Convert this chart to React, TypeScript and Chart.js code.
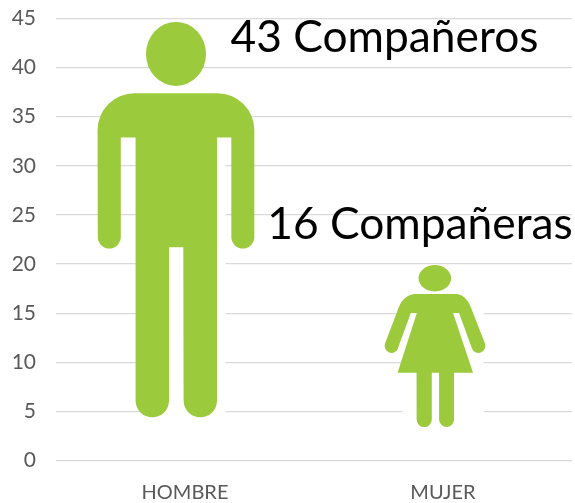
import React, { useEffect, useRef } from "react";
import { Chart, registerables } from "chart.js";

Chart.register(...registerables);

const categories = ["HOMBRE", "MUJER"];
const counts = [43, 16];
const captions = ["Compañeros", "Compañeras"];
const captionLevels = [43, 24];
const figureSpans: [number, number][] = [[4.4, 44.6], [3.4, 19.9]];
const maskSpans: [number, number][] = [[2, 33], [2, 16]];
const yTicks = [0, 5, 10, 15, 20, 25, 30, 35, 40, 45];

const GREEN = "#9BCB3C";
const FONT = "Lato, Carlito, sans-serif";

function drawMan(ctx: CanvasRenderingContext2D, cx: number, top: number, s: number) {
  const X = (d: number) => cx + d * s;
  const Y = (d: number) => top + d * s;
  ctx.beginPath();
  ctx.ellipse(X(-0.3), Y(31.5), 30 * s, 32 * s, 0, 0, Math.PI * 2);
  ctx.closePath();
  ctx.fill();
  ctx.beginPath();
  ctx.moveTo(X(-42), Y(70.7));
  ctx.arcTo(X(78), Y(70.7), X(78), Y(214), 37 * s);
  ctx.lineTo(X(78), Y(214.5));
  ctx.arc(X(66.5), Y(214.5), 11.5 * s, 0, Math.PI);
  ctx.lineTo(X(55), Y(115));
  ctx.lineTo(X(40.7), Y(115));
  ctx.lineTo(X(40.7), Y(378));
  ctx.arc(X(24), Y(378), 16.7 * s, 0, Math.PI);
  ctx.lineTo(X(7), Y(224.7));
  ctx.lineTo(X(-7.3), Y(224.7));
  ctx.lineTo(X(-7.3), Y(378));
  ctx.arc(X(-24), Y(378), 16.7 * s, 0, Math.PI);
  ctx.lineTo(X(-40.7), Y(115));
  ctx.lineTo(X(-55.5), Y(115));
  ctx.lineTo(X(-55.5), Y(214.5));
  ctx.arc(X(-67), Y(214.5), 11.5 * s, 0, Math.PI);
  ctx.lineTo(X(-78.7), Y(108));
  ctx.arcTo(X(-78.7), Y(70.7), X(0), Y(70.7), 37 * s);
  ctx.closePath();
  ctx.fill();
}

function drawWoman(ctx: CanvasRenderingContext2D, cx: number, top: number, s: number) {
  const X = (d: number) => cx + d * s;
  const Y = (d: number) => top + d * s;
  ctx.beginPath();
  ctx.ellipse(X(0), Y(13.2), 16.3 * s, 13.2 * s, 0, 0, Math.PI * 2);
  ctx.closePath();
  ctx.fill();
  ctx.beginPath();
  ctx.moveTo(X(-21), Y(29));
  ctx.lineTo(X(22.7), Y(29));
  ctx.quadraticCurveTo(X(32), Y(31), X(36), Y(42));
  ctx.lineTo(X(50.3), Y(78.5));
  ctx.arc(X(43.7), Y(81), 7 * s, -0.35, Math.PI - 0.35);
  ctx.lineTo(X(24.3), Y(48));
  ctx.lineTo(X(18.3), Y(48));
  ctx.lineTo(X(38.3), Y(108));
  ctx.lineTo(X(19.3), Y(108));
  ctx.lineTo(X(19.3), Y(154.8));
  ctx.arc(X(11.8), Y(154.8), 7.5 * s, 0, Math.PI);
  ctx.lineTo(X(4.3), Y(108));
  ctx.lineTo(X(-3), Y(108));
  ctx.lineTo(X(-3), Y(154.8));
  ctx.arc(X(-10.6), Y(154.8), 7.6 * s, 0, Math.PI);
  ctx.lineTo(X(-18.3), Y(108));
  ctx.lineTo(X(-37.3), Y(108));
  ctx.lineTo(X(-18), Y(48));
  ctx.lineTo(X(-24), Y(48));
  ctx.lineTo(X(-37), Y(83.5));
  ctx.arc(X(-43.3), Y(81), 7 * s, 0.35, Math.PI + 0.35);
  ctx.lineTo(X(-36), Y(42));
  ctx.quadraticCurveTo(X(-32), Y(31), X(-21), Y(29));
  ctx.closePath();
  ctx.fill();
}

const pictogramPlugin = {
  id: "pictograms",
  afterDatasetsDraw(chart: any) {
    const { ctx } = chart;
    const els = chart.getDatasetMeta(1).data;
    const yScale = chart.scales.y;
    ctx.save();
    ctx.fillStyle = GREEN;
    const [man, woman] = els;
    const sMan = (man.base - man.y) / 394.7;
    drawMan(ctx, man.x - 8.7, man.y, sMan);
    const sWoman = (woman.base - woman.y) / 162.4;
    drawWoman(ctx, woman.x - 8.2, woman.y, sWoman);

    ctx.fillStyle = "#000000";
    ctx.font = `44.3px ${FONT}`;
    ctx.textAlign = "center";
    ctx.textBaseline = "middle";
    const offsets = [199.5, -23];
    counts.forEach((n, i) => {
      ctx.fillText(`${n} ${captions[i]}`, els[i].x + offsets[i], yScale.getPixelForValue(captionLevels[i]));
    });
    ctx.restore();
  },
};

export default function App() {
  const ref = useRef<HTMLCanvasElement>(null);
  useEffect(() => {
    if (!ref.current) return;
    const chart = new Chart(ref.current, {
      type: "bar",
      data: {
        labels: categories,
        datasets: [
          {
            label: "mask",
            data: maskSpans as any,
            backgroundColor: "#FFFFFF",
            barPercentage: 0.314,
            categoryPercentage: 1,
          },
          {
            label: "Compañeros",
            data: figureSpans as any,
            backgroundColor: "rgba(0,0,0,0)",
            barPercentage: 0.314,
            categoryPercentage: 1,
          },
        ],
      },
      options: {
        responsive: false,
        animation: false,
        layout: { padding: { top: 18.5, right: 3, left: 0, bottom: 0 } },
        plugins: { legend: { display: false }, tooltip: { enabled: false }, title: { display: false } },
        scales: {
          x: {
            stacked: true,
            grid: { display: false },
            border: { display: false },
            ticks: { color: "#595959", font: { family: FONT, size: 20 }, padding: 12, maxRotation: 0 },
            afterFit: (s: any) => { s.height = 42.5; },
          },
          y: {
            min: 0,
            max: 45,
            afterBuildTicks: (s: any) => { s.ticks = yTicks.map((value) => ({ value })); },
            grid: { color: "#DADADA", lineWidth: 1.2, drawTicks: false },
            border: { display: false },
            ticks: { color: "#595959", font: { family: FONT, size: 21 }, padding: 20 },
            afterFit: (s: any) => { s.width = 56; s.paddingTop = 0; s.paddingBottom = 0; },
          },
        },
      },
      plugins: [pictogramPlugin],
    } as any);
    return () => chart.destroy();
  }, []);
  return (
    <div style={{ position: "fixed", left: 0, top: 0, width: 575, height: 503, background: "#fff" }}>
      <canvas ref={ref} width={575} height={503} style={{ display: "block" }} />
    </div>
  );
}
